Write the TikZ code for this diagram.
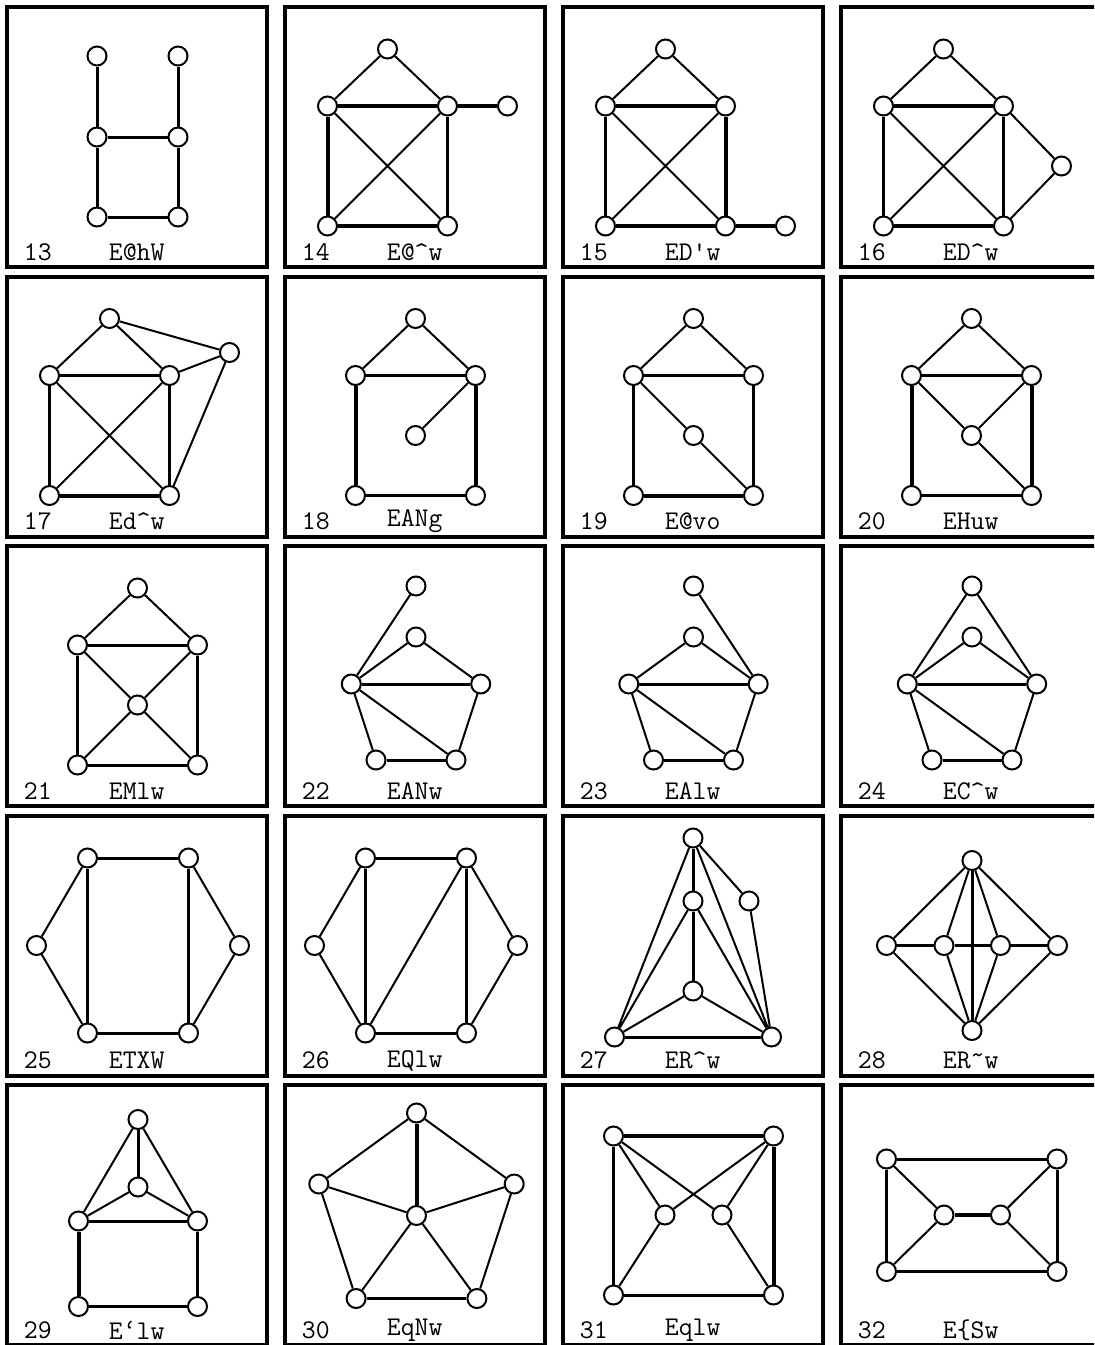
\documentclass[tikz,border=0pt]{standalone}
\usepackage{graphicx}
\begin{document}
\begin{tikzpicture}[x=0.5pt,y=-0.5pt,
  vx/.style={circle, draw, fill=white, line width=1pt, minimum size=9.5pt, inner sep=0pt},
  ethin/.style={line width=1pt},
  emed/.style={line width=1.5pt},
  ethick/.style={line width=2pt},
  panelbox/.style={draw, line width=2pt},
  numlab/.style={inner sep=0pt, anchor=west, font=\fontsize{13.5}{15}\selectfont\ttfamily},
]
\useasboundingbox (0,0) rectangle (1094,1345);
\clip (0,0) rectangle (1094,1345);

% ---------- 13 ----------
\begin{scope}[shift={(6.5,7)}]
\draw[panelbox] (0,0) rectangle (260,260);
\node[numlab] (lab13) at (17,245) {13};
\node[numlab] (code13) at (102,245) {E@hW};
\node[vx] (g13a) at (90.5,49) {};
\node[vx] (g13b) at (171.5,49) {};
\node[vx] (g13c) at (90.5,130) {};
\node[vx] (g13d) at (171.5,130) {};
\node[vx] (g13e) at (90.5,210) {};
\node[vx] (g13f) at (171.5,210) {};
\draw[emed] (g13a)--(g13c) (g13b)--(g13d) (g13c)--(g13d) (g13c)--(g13e) (g13d)--(g13f) (g13e)--(g13f);
\end{scope}

% ---------- 14 ----------
\begin{scope}[shift={(284.5,7)}]
\draw[panelbox] (0,0) rectangle (260,260);
\node[numlab] (lab14) at (17,245) {14};
\node[numlab] (code14) at (102,245) {E@\textasciicircum w};
\node[vx] (g14t) at (103,42) {};
\node[vx] (g14l) at (43,99) {};
\node[vx] (g14r) at (163,99) {};
\node[vx] (g14f) at (223,99) {};
\node[vx] (g14bl) at (43,219) {};
\node[vx] (g14br) at (163,219) {};
\draw[ethin] (g14t)--(g14l) (g14t)--(g14r) (g14l)--(g14br) (g14r)--(g14bl);
\draw[ethick] (g14l)--(g14r) (g14r)--(g14f) (g14l)--(g14bl) (g14bl)--(g14br);
\draw[emed] (g14r)--(g14br);
\end{scope}

% ---------- 15 ----------
\begin{scope}[shift={(562.5,7)}]
\draw[panelbox] (0,0) rectangle (260,260);
\node[numlab] (lab15) at (17,245) {15};
\node[numlab] (code15) at (102,245) {ED\textquotesingle w};
\node[vx] (g15t) at (103,42) {};
\node[vx] (g15l) at (43,99) {};
\node[vx] (g15r) at (163,99) {};
\node[vx] (g15bl) at (43,219) {};
\node[vx] (g15br) at (163,219) {};
\node[vx] (g15f) at (223,219) {};
\draw[ethin] (g15t)--(g15l) (g15t)--(g15r) (g15l)--(g15br) (g15r)--(g15bl);
\draw[ethick] (g15l)--(g15r) (g15r)--(g15br) (g15bl)--(g15br) (g15br)--(g15f);
\draw[emed] (g15l)--(g15bl);
\end{scope}

% ---------- 16 ----------
\begin{scope}[shift={(840.5,7)}]
\draw[panelbox] (0,0) rectangle (260,260);
\node[numlab] (lab16) at (17,245) {16};
\node[numlab] (code16) at (102,245) {ED\textasciicircum w};
\node[vx] (g16t) at (103,42) {};
\node[vx] (g16l) at (43,99) {};
\node[vx] (g16r) at (163,99) {};
\node[vx] (g16s) at (221,159) {};
\node[vx] (g16bl) at (43,219) {};
\node[vx] (g16br) at (163,219) {};
\draw[ethin] (g16t)--(g16l) (g16t)--(g16r) (g16l)--(g16br) (g16r)--(g16bl) (g16r)--(g16s) (g16br)--(g16s);
\draw[ethick] (g16l)--(g16r) (g16bl)--(g16br);
\draw[emed] (g16l)--(g16bl) (g16r)--(g16br);
\end{scope}

% ---------- 17 ----------
\begin{scope}[shift={(6.5,276.5)}]
\draw[panelbox] (0,0) rectangle (260,260);
\node[numlab] (lab17) at (17,245) {17};
\node[numlab] (code17) at (102,245) {Ed\textasciicircum w};
\node[vx] (g17t) at (103,42) {};
\node[vx] (g17l) at (43,99) {};
\node[vx] (g17r) at (163,99) {};
\node[vx] (g17f) at (223,76) {};
\node[vx] (g17bl) at (43,219) {};
\node[vx] (g17br) at (163,219) {};
\draw[ethin] (g17t)--(g17l) (g17t)--(g17r) (g17t)--(g17f) (g17r)--(g17f) (g17f)--(g17br) (g17l)--(g17br) (g17r)--(g17bl);
\draw[emed] (g17l)--(g17r) (g17l)--(g17bl) (g17r)--(g17br);
\draw[ethick] (g17bl)--(g17br);
\end{scope}

% ---------- 18 ----------
\begin{scope}[shift={(284.5,276.5)}]
\draw[panelbox] (0,0) rectangle (260,260);
\node[numlab] (lab18) at (17,245) {18};
\node[numlab] (code18) at (102,245) {EANg};
\node[vx] (g18t) at (131,42) {};
\node[vx] (g18l) at (71,99) {};
\node[vx] (g18r) at (191,99) {};
\node[vx] (g18m) at (131,159) {};
\node[vx] (g18bl) at (71,219) {};
\node[vx] (g18br) at (191,219) {};
\draw[ethin] (g18t)--(g18l) (g18t)--(g18r) (g18r)--(g18m);
\draw[emed] (g18l)--(g18r) (g18bl)--(g18br);
\draw[ethick] (g18l)--(g18bl) (g18r)--(g18br);
\end{scope}

% ---------- 19 ----------
\begin{scope}[shift={(562.5,276.5)}]
\draw[panelbox] (0,0) rectangle (260,260);
\node[numlab] (lab19) at (17,245) {19};
\node[numlab] (code19) at (102,245) {E@vo};
\node[vx] (g19t) at (131,42) {};
\node[vx] (g19l) at (71,99) {};
\node[vx] (g19r) at (191,99) {};
\node[vx] (g19m) at (131,159) {};
\node[vx] (g19bl) at (71,219) {};
\node[vx] (g19br) at (191,219) {};
\draw[ethin] (g19t)--(g19l) (g19t)--(g19r) (g19l)--(g19m) (g19m)--(g19br);
\draw[emed] (g19l)--(g19r) (g19l)--(g19bl) (g19r)--(g19br);
\draw[ethick] (g19bl)--(g19br);
\end{scope}

% ---------- 20 ----------
\begin{scope}[shift={(840.5,276.5)}]
\draw[panelbox] (0,0) rectangle (260,260);
\node[numlab] (lab20) at (17,245) {20};
\node[numlab] (code20) at (102,245) {EHuw};
\node[vx] (g20t) at (131,42) {};
\node[vx] (g20l) at (71,99) {};
\node[vx] (g20r) at (191,99) {};
\node[vx] (g20m) at (131,159) {};
\node[vx] (g20bl) at (71,219) {};
\node[vx] (g20br) at (191,219) {};
\draw[ethin] (g20t)--(g20l) (g20t)--(g20r) (g20l)--(g20m) (g20r)--(g20m) (g20m)--(g20br);
\draw[emed] (g20l)--(g20r) (g20bl)--(g20br);
\draw[ethick] (g20l)--(g20bl) (g20r)--(g20br);
\end{scope}

% ---------- 21 ----------
\begin{scope}[shift={(6.5,546)}]
\draw[panelbox] (0,0) rectangle (260,260);
\node[numlab] (lab21) at (17,245) {21};
\node[numlab] (code21) at (102,245) {EMlw};
\node[vx] (g21t) at (131,42) {};
\node[vx] (g21l) at (71,99) {};
\node[vx] (g21r) at (191,99) {};
\node[vx] (g21m) at (131,159) {};
\node[vx] (g21bl) at (71,219) {};
\node[vx] (g21br) at (191,219) {};
\draw[ethin] (g21t)--(g21l) (g21t)--(g21r) (g21l)--(g21m) (g21r)--(g21m) (g21m)--(g21bl) (g21m)--(g21br);
\draw[emed] (g21l)--(g21r) (g21l)--(g21bl) (g21r)--(g21br) (g21bl)--(g21br);
\end{scope}

% ---------- 22 ----------
\begin{scope}[shift={(284.5,546)}]
\draw[panelbox] (0,0) rectangle (260,260);
\node[numlab] (lab22) at (17,245) {22};
\node[numlab] (code22) at (102,245) {EANw};
\node[vx] (g22f) at (131.5,40) {};
\node[vx] (g22t) at (131.5,91) {};
\node[vx] (g22l) at (66.8,138) {};
\node[vx] (g22r) at (196.2,138) {};
\node[vx] (g22bl) at (91.5,214) {};
\node[vx] (g22br) at (171.5,214) {};
\draw[ethin] (g22l)--(g22f) (g22l)--(g22t) (g22t)--(g22r) (g22l)--(g22bl) (g22l)--(g22br) (g22r)--(g22br);
\draw[emed] (g22l)--(g22r) (g22bl)--(g22br);
\end{scope}

% ---------- 23 ----------
\begin{scope}[shift={(562.5,546)}]
\draw[panelbox] (0,0) rectangle (260,260);
\node[numlab] (lab23) at (17,245) {23};
\node[numlab] (code23) at (102,245) {EAlw};
\node[vx] (g23f) at (131,40) {};
\node[vx] (g23t) at (131,91) {};
\node[vx] (g23l) at (66.3,138) {};
\node[vx] (g23r) at (195.7,138) {};
\node[vx] (g23bl) at (91,214) {};
\node[vx] (g23br) at (171,214) {};
\draw[ethin] (g23f)--(g23r) (g23l)--(g23t) (g23t)--(g23r) (g23l)--(g23bl) (g23l)--(g23br) (g23r)--(g23br);
\draw[emed] (g23l)--(g23r) (g23bl)--(g23br);
\end{scope}

% ---------- 24 ----------
\begin{scope}[shift={(840.5,546)}]
\draw[panelbox] (0,0) rectangle (260,260);
\node[numlab] (lab24) at (17,245) {24};
\node[numlab] (code24) at (102,245) {EC\textasciicircum w};
\node[vx] (g24f) at (131.5,40) {};
\node[vx] (g24t) at (131.5,91) {};
\node[vx] (g24l) at (66.8,138) {};
\node[vx] (g24r) at (196.2,138) {};
\node[vx] (g24bl) at (91.5,214) {};
\node[vx] (g24br) at (171.5,214) {};
\draw[ethin] (g24f)--(g24l) (g24f)--(g24r) (g24l)--(g24t) (g24t)--(g24r) (g24l)--(g24bl) (g24l)--(g24br) (g24r)--(g24br);
\draw[emed] (g24l)--(g24r) (g24bl)--(g24br);
\end{scope}

% ---------- 25 ----------
\begin{scope}[shift={(6.5,815.5)}]
\draw[panelbox] (0,0) rectangle (260,260);
\node[numlab] (lab25) at (17,245) {25};
\node[numlab] (code25) at (102,245) {ETXW};
\node[vx] (g25tl) at (81,42.5) {};
\node[vx] (g25tr) at (182,42.5) {};
\node[vx] (g25l) at (30,130) {};
\node[vx] (g25r) at (233,130) {};
\node[vx] (g25bl) at (81,217.5) {};
\node[vx] (g25br) at (182,217.5) {};
\draw[emed] (g25tl)--(g25tr) (g25tl)--(g25bl) (g25tr)--(g25br) (g25bl)--(g25br);
\draw[ethin] (g25tl)--(g25l) (g25l)--(g25bl) (g25tr)--(g25r) (g25r)--(g25br);
\end{scope}

% ---------- 26 ----------
\begin{scope}[shift={(284.5,815.5)}]
\draw[panelbox] (0,0) rectangle (260,260);
\node[numlab] (lab26) at (17,245) {26};
\node[numlab] (code26) at (102,245) {EQlw};
\node[vx] (g26tl) at (81,42.5) {};
\node[vx] (g26tr) at (182,42.5) {};
\node[vx] (g26l) at (30,130) {};
\node[vx] (g26r) at (233,130) {};
\node[vx] (g26bl) at (81,217.5) {};
\node[vx] (g26br) at (182,217.5) {};
\draw[emed] (g26tl)--(g26tr) (g26tl)--(g26bl) (g26tr)--(g26br) (g26bl)--(g26br);
\draw[ethin] (g26tl)--(g26l) (g26l)--(g26bl) (g26tr)--(g26bl) (g26tr)--(g26r) (g26r)--(g26br);
\end{scope}

% ---------- 27 ----------
\begin{scope}[shift={(562.5,815.5)}]
\draw[panelbox] (0,0) rectangle (260,260);
\node[numlab] (lab27) at (17,245) {27};
\node[numlab] (code27) at (102,245) {ER\textasciicircum w};
\node[vx] (g27t) at (130.5,22.5) {};
\node[vx] (g27a) at (130.5,85.5) {};
\node[vx] (g27s) at (186.5,85.5) {};
\node[vx] (g27b) at (130.5,175.5) {};
\node[vx] (g27bl) at (52,221.5) {};
\node[vx] (g27br) at (209,221.5) {};
\draw[emed] (g27t)--(g27a) (g27a)--(g27b) (g27bl)--(g27br);
\draw[ethin] (g27t)--(g27bl) (g27t)--(g27br) (g27t)--(g27s) (g27s)--(g27br) (g27a)--(g27bl) (g27a)--(g27br) (g27b)--(g27bl) (g27b)--(g27br);
\end{scope}

% ---------- 28 ----------
\begin{scope}[shift={(840.5,815.5)}]
\draw[panelbox] (0,0) rectangle (260,260);
\node[numlab] (lab28) at (17,245) {28};
\node[numlab] (code28) at (102,245) {ER\raisebox{0.45ex}{\textasciitilde}w};
\node[vx] (g28t) at (131.5,45) {};
\node[vx] (g28l) at (46,130) {};
\node[vx] (g28ml) at (103.5,130) {};
\node[vx] (g28mr) at (160,130) {};
\node[vx] (g28r) at (217,130) {};
\node[vx] (g28b) at (131.5,215) {};
\draw[ethin] (g28t)--(g28l) (g28t)--(g28ml) (g28t)--(g28mr) (g28t)--(g28r) (g28b)--(g28l) (g28b)--(g28ml) (g28b)--(g28mr) (g28b)--(g28r);
\draw[emed] (g28t)--(g28b) (g28l)--(g28ml) (g28ml)--(g28mr) (g28mr)--(g28r);
\end{scope}

% ---------- 29 ----------
\begin{scope}[shift={(6.5,1085)}]
\draw[panelbox] (0,0) rectangle (260,260);
\node[numlab] (lab29) at (17,245) {29};
\node[numlab] (code29) at (102,245) {E\textquoteleft lw};
\node[vx] (g29t) at (131.5,34.5) {};
\node[vx] (g29m) at (131.5,102) {};
\node[vx] (g29l) at (72,136) {};
\node[vx] (g29r) at (191,136) {};
\node[vx] (g29bl) at (72,221.5) {};
\node[vx] (g29br) at (191,221.5) {};
\draw[emed] (g29t)--(g29m) (g29l)--(g29r) (g29r)--(g29br) (g29bl)--(g29br);
\draw[ethin] (g29t)--(g29l) (g29t)--(g29r) (g29m)--(g29l) (g29m)--(g29r);
\draw[ethick] (g29l)--(g29bl);
\end{scope}

% ---------- 30 ----------
\begin{scope}[shift={(284.5,1085)}]
\draw[panelbox] (0,0) rectangle (260,260);
\node[numlab] (lab30) at (17,245) {30};
\node[numlab] (code30) at (102,245) {EqNw};
\node[vx] (g30t) at (132,28) {};
\node[vx] (g30l) at (34.3,99) {};
\node[vx] (g30r) at (229.7,99) {};
\node[vx] (g30c) at (132,130.5) {};
\node[vx] (g30bl) at (71.6,213.5) {};
\node[vx] (g30br) at (192.4,213.5) {};
\draw[ethick] (g30t)--(g30c);
\draw[ethin] (g30t)--(g30l) (g30t)--(g30r) (g30l)--(g30c) (g30r)--(g30c) (g30l)--(g30bl) (g30r)--(g30br) (g30c)--(g30bl) (g30c)--(g30br);
\draw[emed] (g30bl)--(g30br);
\end{scope}

% ---------- 31 ----------
\begin{scope}[shift={(562.5,1085)}]
\draw[panelbox] (0,0) rectangle (260,260);
\node[numlab] (lab31) at (17,245) {31};
\node[numlab] (code31) at (102,245) {Eqlw};
\node[vx] (g31tl) at (51,51) {};
\node[vx] (g31tr) at (211,51) {};
\node[vx] (g31ml) at (102.5,130) {};
\node[vx] (g31mr) at (159.5,130) {};
\node[vx] (g31bl) at (51,210) {};
\node[vx] (g31br) at (211,210) {};
\draw[ethick] (g31tl)--(g31tr) (g31tr)--(g31br);
\draw[emed] (g31tl)--(g31bl) (g31bl)--(g31br);
\draw[ethin] (g31tl)--(g31ml) (g31tl)--(g31mr) (g31tr)--(g31ml) (g31tr)--(g31mr) (g31ml)--(g31bl) (g31mr)--(g31br);
\end{scope}

% ---------- 32 ----------
\begin{scope}[shift={(840.5,1085)}]
\draw[panelbox] (0,0) rectangle (260,260);
\node[numlab] (lab32) at (17,245) {32};
\node[numlab] (code32) at (102,245) {E\{Sw};
\node[vx] (g32tl) at (46,74) {};
\node[vx] (g32tr) at (216.5,74) {};
\node[vx] (g32ml) at (103.5,130) {};
\node[vx] (g32mr) at (160,130) {};
\node[vx] (g32bl) at (46,186.5) {};
\node[vx] (g32br) at (216.5,186.5) {};
\draw[emed] (g32tl)--(g32tr) (g32bl)--(g32br) (g32tl)--(g32bl) (g32tr)--(g32br);
\draw[ethin] (g32tl)--(g32ml) (g32bl)--(g32ml) (g32mr)--(g32tr) (g32mr)--(g32br);
\draw[ethick] (g32ml)--(g32mr);
\end{scope}
\end{tikzpicture}
\end{document}
